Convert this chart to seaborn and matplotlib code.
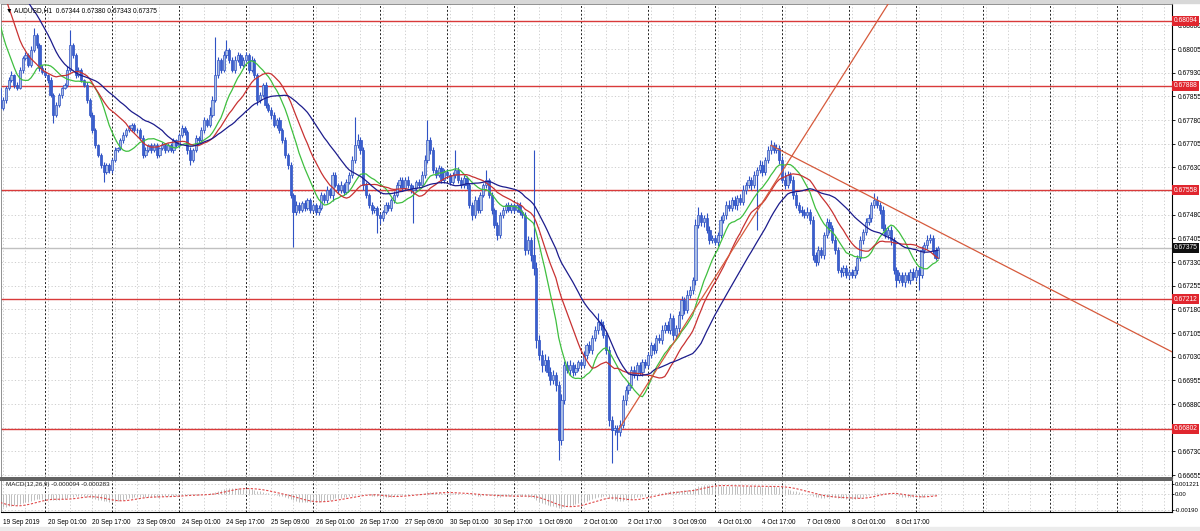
import numpy as np
import pandas as pd
import matplotlib
matplotlib.use("Agg")
import matplotlib.pyplot as plt
from matplotlib.patches import Rectangle
import seaborn as sns

sns.set_style("white")
plt.rcParams['font.family'] = ['Liberation Sans', 'DejaVu Sans']

# ---- data (prices in 1e-5 units) ----
# hourly closes before the visible window (only feed the averages / MACD)
hist_closes = [
    68450, 68462, 68441, 68455, 68470, 68466, 68448, 68452, 68475, 68480,
    68468, 68459, 68444, 68450, 68463, 68471, 68458, 68446, 68452, 68460,
    68478, 68472, 68455, 68449, 68457, 68466, 68470, 68461, 68450, 68444,
    68456, 68468, 68473, 68460, 68451, 68447, 68455,
    68462, 68470, 68458, 68450, 68466, 68472, 68455, 68448, 68460, 68452,
    68380, 68300, 68260, 68220, 68225, 68200, 68150, 68100, 68050, 68000,
    67950, 67900, 67880,
]

# AUDUSD H1 closes, 19 Sep 08:00 .. 9 Oct 08:00
closes = [
    # 19 Sep
    67818, 67843, 67881, 67906, 67922, 67891, 67881, 67938, 67976, 67986, 67954, 68002, 68049, 68017, 67944, 67932,
    # 20 Sep
    67922, 67906, 67859, 67796, 67827, 67859, 67881, 67891, 67938, 68017, 67986, 67922,
    67938, 67906, 67891, 67843, 67796, 67748, 67700, 67669, 67637, 67615, 67637, 67621,
    # 23 Sep
    67653, 67685, 67691, 67716, 67732, 67748, 67754, 67764, 67748, 67748, 67723, 67669,
    67685, 67700, 67685, 67700, 67669, 67691, 67700, 67685, 67700, 67685, 67716, 67700,
    # 24 Sep
    67732, 67754, 67742, 67685, 67653, 67685, 67723, 67716, 67748, 67780, 67764, 67796,
    67843, 67922, 67970, 67938, 67986, 68002, 67970, 67938, 67970, 67986, 67954, 67970,
    # 25 Sep
    67986, 67938, 67970, 67922, 67843, 67859, 67891, 67827, 67812, 67796, 67764, 67780,
    67748, 67716, 67669, 67637, 67542, 67488, 67510, 67494, 67516, 67501, 67526, 67494,
    # 26 Sep
    67510, 67488, 67501, 67542, 67526, 67558, 67542, 67605, 67574, 67558, 67574, 67551,
    67583, 67605, 67653, 67700, 67716, 67685, 67574, 67542, 67510, 67494, 67501, 67478,
    # 27 Sep
    67469, 67488, 67510, 67501, 67526, 67542, 67574, 67590, 67564, 67590, 67574, 67558,
    67564, 67583, 67574, 67605, 67653, 67716, 67685, 67622, 67605, 67627, 67590, 67615,
    # 30 Sep
    67605, 67583, 67605, 67622, 67590, 67574, 67596, 67574, 67510, 67478, 67526, 67494,
    67542, 67574, 67590, 67542, 67494, 67447, 67415, 67478, 67494, 67510, 67494, 67510,
    # 1 Oct
    67494, 67510, 67488, 67478, 67367, 67399, 67352, 67310, 67082, 67035, 67003, 67019,
    66981, 66955, 66971, 66940, 66765, 66892, 67003, 66987, 67003, 66981, 66994, 67012,
    # 2 Oct
    67003, 67035, 67066, 67050, 67089, 67114, 67139, 67130, 67098, 67050, 66829, 66797,
    66803, 66791, 66813, 66892, 66924, 66940, 66987, 66971, 67003, 66981, 67012, 67003,
    # 3 Oct
    67035, 67066, 67050, 67089, 67082, 67114, 67130, 67114, 67152, 67098, 67120, 67161,
    67209, 67177, 67225, 67241, 67272, 67447, 67478, 67456, 67469, 67431, 67399, 67406,
    # 4 Oct
    67393, 67415, 67463, 67478, 67510, 67501, 67526, 67510, 67532, 67520, 67558, 67574,
    67590, 67574, 67605, 67622, 67637, 67615, 67653, 67685, 67700, 67685, 67691, 67653,
    # 7 Oct
    67590, 67574, 67605, 67590, 67542, 67510, 67494, 67488, 67478, 67488, 67463, 67352,
    67330, 67367, 67352, 67415, 67456, 67437, 67399, 67368, 67304, 67298, 67310, 67288,
    # 8 Oct
    67298, 67288, 67304, 67342, 67399, 67425, 67456, 67469, 67510, 67526, 67510, 67494,
    67437, 67415, 67431, 67399, 67304, 67272, 67288, 67266, 67288, 67272, 67298, 67282,
    # 9 Oct
    67304, 67288, 67368, 67383, 67400, 67406, 67368, 67344, 67375,
]

# wick length above the body / below the body, points
wick_hi = [
    8, 10, 6, 9, 12, 5, 8, 10, 7, 9, 6, 12, 22, 8, 6, 9,
    7, 5, 9, 6, 10, 8, 5, 7, 12, 48, 8, 6, 10, 7, 5, 8, 6, 9, 7, 5, 8, 10, 6, 7,
    6, 8, 5, 7, 9, 6, 10, 8, 5, 7, 6, 9, 8, 5, 7, 6, 8, 5, 9, 6, 7, 8, 6, 5,
    7, 9, 6, 5, 8, 6, 9, 7, 10, 8, 6, 25, 12, 121, 10, 8, 14, 31, 7, 9, 12, 8, 6, 10,
    9, 6, 12, 7, 8, 10, 6, 9, 7, 8, 10, 6, 8, 7, 9, 6, 10, 8, 12, 9, 7, 10, 8, 6,
    8, 6, 9, 10, 7, 12, 8, 10, 9, 7, 12, 8, 10, 9, 14, 89, 20, 10, 8, 10, 7, 9, 8, 6,
    8, 7, 10, 9, 8, 12, 10, 9, 8, 10, 12, 7, 9, 8, 10, 12, 15, 64, 10, 9, 8, 10, 7, 9,
    9, 8, 10, 63, 8, 9, 10, 7, 8, 9, 12, 10, 9, 8, 32, 7, 9, 8, 10, 12, 9, 8, 10, 7,
    8, 10, 9, 7, 12, 15, 10, 333, 20, 18, 15, 20, 12, 15, 18, 10, 12, 20, 15, 12, 18, 10, 12, 9,
    10, 12, 9, 15, 10, 12, 29, 10, 12, 9, 15, 12, 10, 12, 15, 18, 12, 10, 15, 12, 10, 9, 12, 10,
    10, 12, 9, 10, 12, 15, 10, 12, 18, 10, 12, 15, 12, 10, 15, 12, 10, 20, 26, 12, 10, 15, 12, 10,
    9, 10, 12, 10, 12, 15, 10, 12, 9, 12, 15, 10, 12, 9, 12, 10, 15, 12, 10, 12, 16, 10, 12, 9,
    12, 25, 15, 10, 12, 10, 9, 12, 10, 15, 10, 12, 10, 15, 12, 10, 12, 9, 10, 12, 10, 9, 12, 10,
    9, 10, 12, 10, 12, 10, 15, 12, 10, 22, 12, 10, 12, 15, 10, 12, 10, 9, 12, 10, 9, 12, 10, 12,
    10, 9, 12, 10, 15, 12, 10, 9, 5,
]
wick_lo = [
    30, 6, 8, 5, 7, 9, 6, 4, 8, 5, 7, 6, 5, 9, 10, 6,
    6, 8, 7, 26, 5, 6, 8, 4, 7, 6, 9, 8, 5, 7, 6, 9, 7, 8, 10, 6, 9, 32, 7, 8,
    9, 5, 7, 6, 8, 5, 7, 9, 6, 8, 7, 10, 5, 6, 8, 7, 9, 6, 5, 8, 7, 6, 9, 7,
    8, 6, 9, 12, 16, 7, 5, 8, 6, 9, 7, 6, 8, 5, 10, 9, 7, 8, 10, 6, 8, 7, 9, 6,
    7, 10, 6, 9, 15, 8, 7, 10, 8, 12, 7, 9, 8, 10, 9, 12, 10, 111, 8, 9, 7, 10, 6, 8,
    7, 9, 8, 6, 10, 8, 9, 20, 7, 10, 8, 9, 7, 6, 8, 10, 9, 12, 15, 10, 8, 12, 9, 57,
    20, 8, 7, 10, 9, 8, 6, 10, 9, 7, 8, 10, 105, 8, 9, 7, 10, 8, 12, 9, 8, 7, 10, 8,
    8, 10, 7, 9, 8, 10, 9, 12, 10, 15, 9, 8, 10, 7, 9, 10, 12, 9, 16, 8, 10, 9, 7, 8,
    9, 7, 10, 8, 15, 12, 18, 20, 25, 15, 20, 18, 12, 15, 10, 20, 63, 15, 12, 10, 15, 12, 10, 8,
    8, 10, 12, 9, 10, 8, 12, 15, 10, 12, 20, 105, 15, 57, 12, 10, 15, 12, 10, 9, 15, 10, 12, 8,
    9, 10, 12, 8, 10, 12, 9, 10, 12, 15, 10, 12, 10, 12, 9, 10, 12, 15, 10, 12, 15, 10, 12, 9,
    10, 12, 9, 10, 12, 9, 10, 12, 15, 10, 9, 12, 10, 15, 10, 174, 9, 12, 10, 9, 12, 10, 9, 12,
    10, 12, 9, 10, 12, 9, 10, 12, 9, 10, 12, 15, 12, 10, 9, 12, 10, 15, 10, 12, 10, 15, 12, 10,
    12, 10, 9, 12, 10, 12, 9, 10, 12, 10, 9, 12, 10, 9, 12, 15, 12, 20, 10, 12, 15, 10, 12, 9,
    12, 47, 10, 9, 12, 10, 12, 9, 1,
]

levels = [0.68094, 0.67888, 0.67558, 0.67212, 0.66802]
bid_price = 0.67375
# trend lines: (bar index, price) end points
trend_up = ([221.4, 318.9], [0.66798, 0.68160])
trend_down = ([276.0, 420.0], [0.67700, 0.67044])

price_ticks = [0.68080, 0.68005, 0.67930, 0.67855, 0.67780, 0.67705, 0.67630, 0.67555,
               0.67480, 0.67405, 0.67330, 0.67255, 0.67180, 0.67105, 0.67030, 0.66955,
               0.66880, 0.66805, 0.66730, 0.66655]
# tick labels hidden under a level label box are left blank
price_tick_labels = ["0.68080", "0.68005", "0.67930", "0.67855", "0.67780", "0.67705",
                     "0.67630", "", "0.67480", "0.67405", "0.67330", "0.67255",
                     "0.67180", "0.67105", "0.67030", "0.66955", "0.66880", "",
                     "0.66730", "0.66655"]
time_labels = ["19 Sep 2019", "20 Sep 01:00", "20 Sep 17:00", "23 Sep 09:00", "24 Sep 01:00",
               "24 Sep 17:00", "25 Sep 09:00", "26 Sep 01:00", "26 Sep 17:00", "27 Sep 09:00",
               "30 Sep 01:00", "30 Sep 17:00", "1 Oct 09:00", "2 Oct 01:00", "2 Oct 17:00",
               "3 Oct 09:00", "4 Oct 01:00", "4 Oct 17:00", "7 Oct 09:00", "8 Oct 01:00",
               "8 Oct 17:00"]
macd_ticks = [0.001221, 0.0, -0.00190]
macd_tick_labels = ["0.001221", "0.00", "-0.00190"]
title_text = "\u25bc AUDUSD,H1  0.67344 0.67380 0.67343 0.67375"
macd_text = "MACD(12,26,9) -0.000094 -0.000283"

# ---- derived series ----
hist = np.array(hist_closes) / 1e5
close = np.array(closes) / 1e5
n = len(close)
opn = np.r_[hist[-1], close[:-1]]
high = np.maximum(opn, close) + np.array(wick_hi) / 1e5
low = np.minimum(opn, close) - np.array(wick_lo) / 1e5
idx = np.arange(n)

full = pd.Series(np.r_[hist, close])
k0 = len(hist)
ma_fast = full.rolling(13).mean().iloc[k0:].values
ma_mid = full.rolling(21).mean().iloc[k0:].values
ma_slow = full.rolling(34).mean().iloc[k0:].values
macd = (full.ewm(span=12, adjust=False).mean() - full.ewm(span=26, adjust=False).mean())
signal = macd.rolling(9).mean()
macd = macd.iloc[k0:].values
signal = signal.iloc[k0:].values

# ---- figure ----
W, H = 1200, 531
fig = plt.figure(figsize=(W / 100, H / 100), dpi=100)


def px_box(x0, y0, x1, y1):
    return [x0 / W, 1 - y1 / H, (x1 - x0) / W, (y1 - y0) / H]


ax = fig.add_axes(px_box(1, 4, 1172, 478))
axm = fig.add_axes(px_box(1, 480, 1172, 512), sharex=ax)

x_left, x_right = 0.24, 419.7
grid_kw = dict(color="#c8c8c8", lw=0.6, ls=(0, (1.5, 2.5)), zorder=0)
sep_kw = dict(color="#202020", lw=0.7, ls=(0, (2, 2)), zorder=0.5)

for a in (ax, axm):
    for g in range(1, 420, 8):
        a.axvline(g, **grid_kw)
    for d in range(16, 420, 24):
        a.axvline(d, **sep_kw)

for p in price_ticks:
    ax.axhline(p, **grid_kw)
for m in macd_ticks:
    axm.axhline(m, **grid_kw)

# level lines and bid line
for lv in levels:
    ax.axhline(lv, color="#d93a3a", lw=1.0, zorder=1)
ax.axhline(bid_price, color="#c0c0c0", lw=1.0, zorder=1)

# candles
edge = "#2f52c4"
up = close >= opn
ax.vlines(idx, low, high, color=edge, lw=0.8, zorder=2)
ax.bar(idx[up], (close - opn)[up], bottom=opn[up], width=0.8,
       color="#a9bce3", edgecolor=edge, lw=0.5, zorder=3)
ax.bar(idx[~up], (close - opn)[~up], bottom=opn[~up], width=0.8,
       color="#3a5fcd", edgecolor=edge, lw=0.5, zorder=3)

# moving averages
sns.lineplot(x=idx, y=ma_fast, ax=ax, color="#3fbf3f", lw=0.9, zorder=4)
sns.lineplot(x=idx, y=ma_mid, ax=ax, color="#c83232", lw=0.9, zorder=4)
sns.lineplot(x=idx, y=ma_slow, ax=ax, color="#1c1c8c", lw=0.9, zorder=4)

# trend lines
ax.plot(trend_up[0], trend_up[1], color="#d65a3c", lw=0.9, zorder=5)
ax.plot(trend_down[0], trend_down[1], color="#d65a3c", lw=0.9, zorder=5)

ax.set_xlim(x_left, x_right)
ax.set_ylim(0.666457, 0.681476)

# MACD panel
axm.vlines(idx, 0, macd, color="#b4b4b4", lw=0.6, zorder=2)
axm.plot(idx, signal, color="#e04848", lw=0.8, ls=(0, (2, 1.5)), zorder=3)
axm.set_ylim(-0.00216, 0.00168)

# ---- axes styling ----
for a in (ax, axm):
    a.yaxis.tick_right()
    for s in ("left", "top"):
        a.spines[s].set_color("#808080")
        a.spines[s].set_linewidth(0.6)
    a.spines["right"].set_color("black")
    a.spines["right"].set_linewidth(0.8)

ax.tick_params(axis="y", direction="out", length=2.5, width=0.6,
               pad=1.5, labelsize=4.8, colors="black")
axm.tick_params(axis="y", direction="out", length=1.5, width=0.6,
                pad=0.5, labelsize=4.3, colors="black")

ax.spines["bottom"].set_color("#606060")
ax.spines["bottom"].set_linewidth(1.4)
axm.spines["top"].set_color("#606060")
axm.spines["top"].set_linewidth(1.4)
axm.spines["bottom"].set_color("black")
axm.spines["bottom"].set_linewidth(0.8)

ax.set_yticks(price_ticks)
ax.set_yticklabels(price_tick_labels)
ax.tick_params(axis="x", bottom=False, labelbottom=False)
axm.set_yticks(macd_ticks)
axm.set_yticklabels(macd_tick_labels)

axm.set_xticks([1 + 16 * k for k in range(len(time_labels))])
axm.set_xticklabels(time_labels, ha="left")
axm.tick_params(axis="x", direction="out", length=3, width=0.6, pad=2,
                labelsize=4.7, colors="black")
ax.set_xlabel("")
ax.set_ylabel("")
axm.set_ylabel("")

# price labels on the right scale
ytr = ax.get_yaxis_transform()
for lv in levels:
    ax.text(1.0015, lv, f"{lv:.5f}", transform=ytr, fontsize=4.8, color="white",
            va="center", ha="left", clip_on=False, zorder=10,
            bbox=dict(boxstyle="square,pad=0.25", fc="#e0262e", ec="none"))
ax.text(1.0015, bid_price, f"{bid_price:.5f}", transform=ytr, fontsize=4.8, color="white",
        va="center", ha="left", clip_on=False, zorder=10,
        bbox=dict(boxstyle="square,pad=0.25", fc="#101010", ec="none"))

ax.text(0.004, 0.993, title_text, transform=ax.transAxes, fontsize=4.8,
        va="top", ha="left", color="black", zorder=10)
axm.text(0.004, 0.93, macd_text, transform=axm.transAxes, fontsize=4.5,
         va="top", ha="left", color="#202020", zorder=10)

# window frame strips
fig.patches.append(Rectangle((0, 0), 1, 4 / H, transform=fig.transFigure,
                             color="#ececec", zorder=-1))
fig.patches.append(Rectangle((0, 1 - 3 / H), 1, 3 / H, transform=fig.transFigure,
                             color="#d8d8d8", zorder=-1))

fig.savefig("out.png", dpi=100)
